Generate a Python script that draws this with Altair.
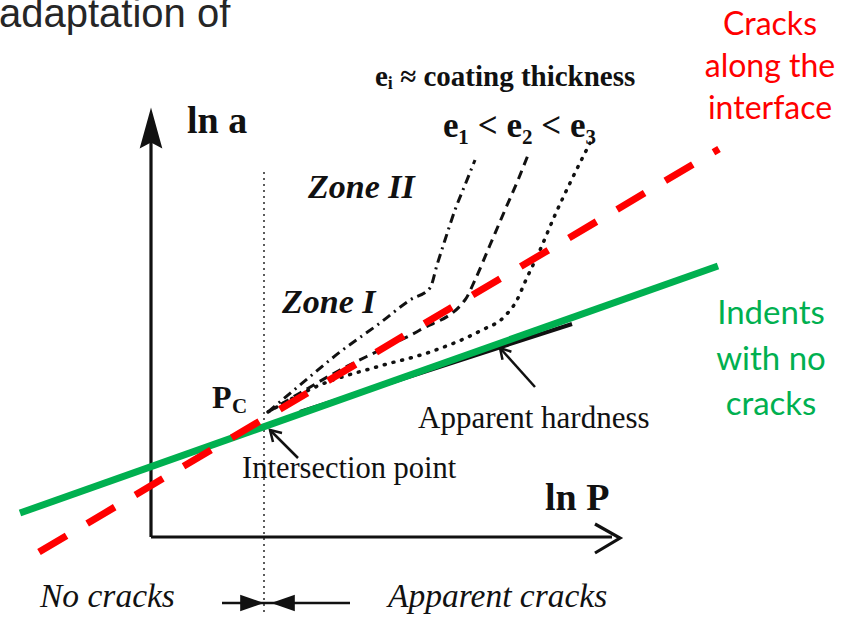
import altair as alt
import pandas as pd

W, H = 854, 619

# ---- drawing space: ln P runs left to right, ln a runs top to bottom (page units)
X = alt.Scale(domain=[0, W], range=[0, W])
Y = alt.Scale(domain=[0, H], range=[0, H])

# crack-length curves for the three coating thicknesses
e1_x = [268, 300, 340, 380, 410, 430, 437, 445, 455, 465, 475]
e1_y = [412, 385, 352, 323, 300, 288, 265, 240, 210, 185, 160]
e2_x = [268, 300, 340, 380, 420, 465, 475, 490, 505, 518, 528]
e2_y = [412, 393, 370, 350, 330, 300, 280, 245, 210, 180, 155]
e3_x = [268, 320, 380, 430, 480, 505, 517, 525, 540, 555, 570, 590]
e3_y = [412, 385, 366, 352, 331, 316, 300, 282, 250, 215, 183, 143]

# apparent-hardness line (no cracks)
hard_x = [300, 572]
hard_y = [412, 324]

# overlay fits
green_x = [20, 718]
green_y = [513, 266]
red_x = [39, 719]
red_y = [552, 149]

# axes
yaxis_x = [151, 151]
yaxis_y = [537, 140]
xaxis_x = [151, 612]
xaxis_y = [537, 537]
xhead_x = [595, 620, 595]
xhead_y = [524, 538, 553]
pc_x = [264, 264]
pc_y = [172, 615]

# annotation arrows
ip_x = [298, 270]
ip_y = [458, 430]
ip_head_x = [273, 270, 282]
ip_head_y = [442, 430, 433]
ah_x = [535, 500]
ah_y = [387, 348]
ah_head_x = [502.5, 500, 511.4]
ah_head_y = [359.7, 348, 351.7]
span_x = [222, 350]
span_y = [603, 603]


def seg(xs, ys):
    return pd.DataFrame({"x": xs, "y": ys, "o": list(range(len(xs)))})


def line(xs, ys, color="#111111", width=3.0, dash=None, interp="linear", cap="butt"):
    kw = dict(color=color, strokeWidth=width, interpolate=interp, strokeCap=cap)
    if dash:
        kw["strokeDash"] = dash
    return alt.Chart(seg(xs, ys)).mark_line(**kw).encode(
        x=alt.X("x:Q", scale=X, axis=None),
        y=alt.Y("y:Q", scale=Y, axis=None),
        order="o:Q",
    )


def texts(labels, xs, ys, **style):
    df = pd.DataFrame({"t": labels, "x": xs, "y": ys})
    base = dict(align="left", baseline="alphabetic")
    base.update(style)
    return alt.Chart(df).mark_text(**base).encode(
        x=alt.X("x:Q", scale=X, axis=None),
        y=alt.Y("y:Q", scale=Y, axis=None),
        text="t:N",
    )


def marker(xs, ys, shape, size, color="#111111"):
    df = pd.DataFrame({"x": xs, "y": ys})
    return alt.Chart(df).mark_point(
        shape=shape, size=size, filled=True, color=color, opacity=1
    ).encode(
        x=alt.X("x:Q", scale=X, axis=None),
        y=alt.Y("y:Q", scale=Y, axis=None),
    )


SERIF = "Liberation Serif"
SANS = "Lato"
INK = "#111111"

layers = [
    # axes and the critical-load guide
    line(pc_x, pc_y, color="#333333", width=1.6, dash=[2, 4]),
    line(yaxis_x, yaxis_y, width=3.2),
    marker([151], [128], "M0,-1L0.55,1L0,0.7L-0.55,1Z", 1700),
    line(xaxis_x, xaxis_y, width=3.2),
    line(xhead_x, xhead_y, width=3.2),
    # crack curves
    line(e1_x, e1_y, width=3, dash=[9, 5, 2, 5], interp="monotone"),
    line(e2_x, e2_y, width=3, dash=[9, 6], interp="monotone"),
    line(e3_x, e3_y, width=3.5, dash=[1, 8], interp="monotone", cap="round"),
    line(hard_x, hard_y, width=4),
    # annotation arrows
    line(ip_x, ip_y, width=2.5),
    line(ip_head_x, ip_head_y, width=2.5),
    line(ah_x, ah_y, width=2.5),
    line(ah_head_x, ah_head_y, width=2.5),
    line(span_x, span_y, width=2.5),
    marker([252], [603], "M-1,-0.7L1,0L-1,0.7Z", 560),
    marker([283], [603], "M1,-0.7L-1,0L1,0.7Z", 560),
    # overlay fits
    line(green_x, green_y, color="#00B050", width=7),
    line(red_x, red_y, color="#FF0000", width=7, dash=[32, 24]),
    # labels
    texts(["ln a"], [187], [133], font=SERIF, fontSize=38, fontWeight="bold", color=INK),
    texts(["ln P"], [545], [510], font=SERIF, fontSize=38, fontWeight="bold", color=INK),
    texts(["e\u1d62 \u2248 coating thickness"], [375], [86],
          font=SERIF, fontSize=29, fontWeight="bold", color=INK),
    texts(["e\u2081 < e\u2082 < e\u2083"], [443], [137],
          font=SERIF, fontSize=35, fontWeight="bold", color=INK),
    texts(["Zone II", "Zone I"], [308, 282], [198, 313],
          font=SERIF, fontSize=34, fontWeight="bold", fontStyle="italic", color=INK),
    texts(["P"], [212], [408], font=SERIF, fontSize=32, fontWeight="bold", color=INK),
    texts(["C"], [232], [413], font=SERIF, fontSize=21, fontWeight="bold", color=INK),
    texts(["Intersection point"], [242], [478], font=SERIF, fontSize=30.5, color=INK),
    texts(["Apparent hardness"], [418], [428], font=SERIF, fontSize=31, color=INK),
    texts(["No cracks", "Apparent cracks"], [40, 388], [607, 607],
          font=SERIF, fontSize=33.5, fontStyle="italic", color=INK),
    texts(["adaptation of"], [-1], [27], font="Liberation Sans", fontSize=40, color="#262626"),
    texts(["Cracks", "along the", "interface"], [770, 770, 770], [35, 77, 119],
          font=SANS, fontSize=32, color="#FF0000", align="center"),
    texts(["Indents", "with no", "cracks"], [771, 771, 771], [324, 370, 415],
          font=SANS, fontSize=33, color="#00B050", align="center"),
]

chart = (
    alt.layer(*layers)
    .properties(width=W, height=H, padding=0, autosize=alt.AutoSizeParams(type="none"),
                background="white")
    .configure_view(stroke=None)
)

chart.save("out.html", embed_options={"renderer": "svg", "actions": False})
